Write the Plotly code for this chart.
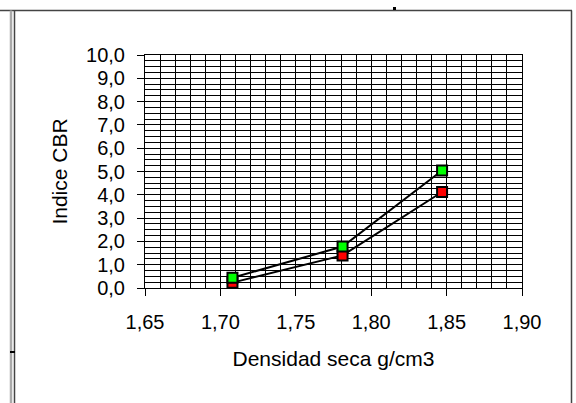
import plotly.graph_objects as go

densidad = [1.708, 1.781, 1.847]
cbr_rojo = [0.23, 1.40, 4.12]
cbr_verde = [0.44, 1.78, 5.04]

x_ticks = [1.65, 1.70, 1.75, 1.80, 1.85, 1.90]
x_labels = ["1,65", "1,70", "1,75", "1,80", "1,85", "1,90"]
y_ticks = [0, 1, 2, 3, 4, 5, 6, 7, 8, 9, 10]
y_labels = [f"{v},0" for v in y_ticks]

W, H = 576, 403
L, R, T, B = 145, 522, 55, 288

FONT = "Liberation Sans, Arial, sans-serif"

fig = go.Figure()
fig.add_trace(go.Scatter(
    x=densidad, y=cbr_rojo, mode="lines+markers",
    line=dict(color="black", width=2),
    marker=dict(symbol="square", size=10, color="#FF0000",
                line=dict(color="black", width=2)),
    showlegend=False))
fig.add_trace(go.Scatter(
    x=densidad, y=cbr_verde, mode="lines+markers",
    line=dict(color="black", width=2),
    marker=dict(symbol="square", size=10, color="#00FF00",
                line=dict(color="black", width=2)),
    showlegend=False))


def px(x):
    return (x - L) / (R - L)


def py(y):
    return (B - y) / (B - T)


shapes = [
    dict(type="line", xref="paper", yref="paper", x0=px(0), x1=px(572), y0=py(10.5), y1=py(10.5),
         line=dict(color="#444444", width=1.5)),
    dict(type="line", xref="paper", yref="paper", x0=px(11), x1=px(11), y0=py(10.5), y1=py(410),
         line=dict(color="#aaaaaa", width=2.5)),
    dict(type="line", xref="paper", yref="paper", x0=px(14.5), x1=px(14.5), y0=py(10.5), y1=py(410),
         line=dict(color="#444444", width=1.5)),
    dict(type="line", xref="paper", yref="paper", x0=px(571.5), x1=px(571.5), y0=py(10.5), y1=py(410),
         line=dict(color="#444444", width=1.5)),
    dict(type="rect", xref="paper", yref="paper", x0=px(393), x1=px(396), y0=py(7), y1=py(10),
         line=dict(width=0), fillcolor="black"),
    dict(type="line", xref="paper", yref="paper", x0=px(10), x1=px(15), y0=py(352), y1=py(352),
         line=dict(color="black", width=2)),
]

fig.update_layout(
    width=W, height=H,
    margin=dict(l=L, r=W - R, t=T, b=H - B),
    paper_bgcolor="white", plot_bgcolor="white",
    font=dict(family=FONT, color="black", size=20),
    shapes=shapes,
)

fig.update_xaxes(
    range=[1.65, 1.90], tickvals=x_ticks, ticktext=x_labels,
    ticks="outside", ticklen=7, tickcolor="black", tickwidth=1,
    showgrid=True, gridcolor="black", gridwidth=1,
    minor=dict(dtick=0.01, tick0=1.65, showgrid=True, gridcolor="black", gridwidth=1, ticks=""),
    showline=True, linecolor="black", linewidth=1, mirror=True,
    zeroline=False, tickfont=dict(size=20), ticklabelstandoff=9,
    title=dict(text="Densidad seca g/cm3", font=dict(size=21), standoff=19),
)
fig.update_yaxes(
    range=[0, 10], tickvals=y_ticks, ticktext=y_labels,
    ticks="outside", ticklen=7, tickcolor="black", tickwidth=1,
    showgrid=True, gridcolor="black", gridwidth=1,
    minor=dict(dtick=0.25, tick0=0, showgrid=True, gridcolor="black", gridwidth=1, ticks=""),
    showline=True, linecolor="black", linewidth=1, mirror=True,
    zeroline=False, tickfont=dict(size=20), ticklabelstandoff=8,
    title=dict(text="Indice CBR", font=dict(size=21), standoff=12),
)

fig.write_html("out.html")
